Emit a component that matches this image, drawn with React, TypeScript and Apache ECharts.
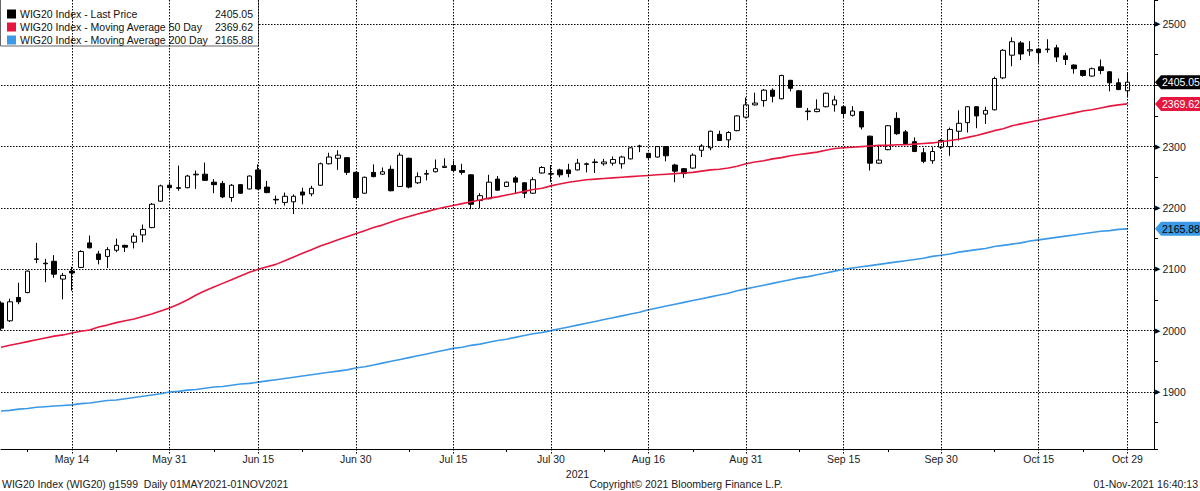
import React, { useEffect, useRef } from "react";
import * as echarts from "echarts";

const dates: string[] = [
  "May 4", "May 5", "May 6", "May 7", "May 10", "May 11", "May 12", "May 13", "May 14", "May 17",
  "May 18", "May 19", "May 20", "May 21", "May 24", "May 25", "May 26", "May 27", "May 28", "May 31",
  "Jun 1", "Jun 2", "Jun 4", "Jun 7", "Jun 8", "Jun 9", "Jun 10", "Jun 11", "Jun 14", "Jun 15",
  "Jun 16", "Jun 17", "Jun 18", "Jun 21", "Jun 22", "Jun 23", "Jun 24", "Jun 25", "Jun 28", "Jun 29", "Jun 30",
  "Jul 1", "Jul 2", "Jul 5", "Jul 6", "Jul 7", "Jul 8", "Jul 9", "Jul 12", "Jul 13", "Jul 14",
  "Jul 15", "Jul 16", "Jul 19", "Jul 20", "Jul 21", "Jul 22", "Jul 23", "Jul 26", "Jul 27", "Jul 28", "Jul 29", "Jul 30",
  "Aug 2", "Aug 3", "Aug 4", "Aug 5", "Aug 6", "Aug 9", "Aug 10", "Aug 11", "Aug 12", "Aug 13",
  "Aug 16", "Aug 17", "Aug 18", "Aug 19", "Aug 20", "Aug 23", "Aug 24", "Aug 25", "Aug 26", "Aug 27", "Aug 30", "Aug 31",
  "Sep 1", "Sep 2", "Sep 3", "Sep 6", "Sep 7", "Sep 8", "Sep 9", "Sep 10", "Sep 13", "Sep 14",
  "Sep 15", "Sep 16", "Sep 17", "Sep 20", "Sep 21", "Sep 22", "Sep 23", "Sep 24", "Sep 27", "Sep 28", "Sep 29", "Sep 30",
  "Oct 1", "Oct 4", "Oct 5", "Oct 6", "Oct 7", "Oct 8", "Oct 11", "Oct 12", "Oct 13", "Oct 14",
  "Oct 15", "Oct 18", "Oct 19", "Oct 20", "Oct 21", "Oct 22", "Oct 25", "Oct 26", "Oct 27", "Oct 28", "Oct 29",
];

const labelDates: string[] = [
  "May 14", "May 31", "Jun 15", "Jun 30", "Jul 15", "Jul 30",
  "Aug 16", "Aug 31", "Sep 15", "Sep 30", "Oct 15", "Oct 29",
];

const minorDates: string[] = [
  "May 7", "May 21", "Jun 8", "Jun 22", "Jul 8", "Jul 23",
  "Aug 9", "Aug 23", "Sep 8", "Sep 22", "Oct 8", "Oct 22",
];

// [open, close, low, high]
const candles: number[][] = [
  [2045, 2004, 2000, 2048], [2016, 2047, 2014, 2052], [2054, 2047, 2043, 2078], [2062, 2097, 2061, 2098],
  [2116, 2117, 2110, 2143], [2110, 2109, 2079, 2117], [2113, 2092, 2086, 2123], [2084, 2090, 2051, 2094],
  [2097, 2094, 2065, 2104], [2103, 2129, 2102, 2131], [2143, 2135, 2134, 2155], [2125, 2116, 2108, 2130],
  [2121, 2132, 2102, 2136], [2131, 2139, 2128, 2150], [2139, 2136, 2128, 2140], [2144, 2154, 2134, 2159],
  [2156, 2165, 2144, 2173], [2168, 2206, 2167, 2208], [2211, 2236, 2210, 2238], [2237, 2233, 2228, 2242],
  [2233, 2232, 2228, 2269], [2233, 2252, 2232, 2254], [2254, 2255, 2231, 2261], [2255, 2245, 2244, 2274],
  [2242, 2238, 2224, 2247], [2240, 2218, 2216, 2244], [2217, 2237, 2210, 2239], [2238, 2224, 2223, 2239],
  [2231, 2252, 2230, 2253], [2262, 2231, 2230, 2271], [2234, 2225, 2224, 2244], [2214, 2213, 2206, 2220],
  [2209, 2219, 2204, 2225], [2210, 2219, 2190, 2222], [2226, 2221, 2206, 2233], [2223, 2232, 2219, 2236],
  [2237, 2272, 2236, 2274], [2272, 2283, 2271, 2290], [2281, 2286, 2262, 2294], [2282, 2258, 2254, 2283],
  [2258, 2217, 2216, 2259], [2224, 2250, 2223, 2251], [2258, 2251, 2250, 2271], [2255, 2259, 2254, 2266],
  [2263, 2228, 2227, 2269], [2235, 2286, 2234, 2290], [2281, 2234, 2232, 2282], [2241, 2251, 2239, 2258],
  [2255, 2256, 2245, 2262], [2259, 2264, 2258, 2279], [2266, 2268, 2265, 2281], [2269, 2261, 2259, 2277],
  [2261, 2258, 2254, 2272], [2254, 2206, 2198, 2255], [2212, 2220, 2200, 2224], [2215, 2242, 2214, 2254],
  [2247, 2229, 2228, 2252], [2235, 2242, 2234, 2243], [2249, 2242, 2224, 2252], [2241, 2224, 2216, 2242],
  [2224, 2246, 2223, 2250], [2257, 2266, 2256, 2268], [2255, 2256, 2242, 2270], [2262, 2254, 2250, 2264],
  [2262, 2256, 2250, 2272], [2262, 2273, 2261, 2280], [2271, 2272, 2258, 2274], [2274, 2275, 2257, 2280],
  [2272, 2275, 2269, 2280], [2273, 2279, 2269, 2284], [2272, 2283, 2264, 2285], [2280, 2298, 2279, 2299],
  [2300, 2301, 2291, 2303], [2289, 2282, 2280, 2290], [2283, 2300, 2282, 2301], [2300, 2285, 2276, 2301],
  [2270, 2260, 2242, 2272], [2264, 2256, 2249, 2265], [2265, 2286, 2264, 2289], [2294, 2301, 2283, 2304],
  [2298, 2325, 2294, 2326], [2320, 2310, 2309, 2326], [2311, 2323, 2298, 2325], [2326, 2350, 2325, 2351],
  [2348, 2368, 2346, 2380], [2368, 2371, 2367, 2388], [2375, 2392, 2365, 2394], [2392, 2382, 2372, 2395],
  [2378, 2416, 2377, 2417], [2408, 2395, 2390, 2409], [2391, 2364, 2363, 2392], [2357, 2358, 2343, 2363],
  [2357, 2361, 2356, 2377], [2365, 2387, 2364, 2388], [2368, 2376, 2357, 2383], [2365, 2354, 2348, 2366],
  [2351, 2358, 2349, 2366], [2357, 2332, 2328, 2358], [2317, 2273, 2261, 2318], [2273, 2278, 2272, 2302],
  [2295, 2334, 2294, 2335], [2346, 2321, 2319, 2356], [2324, 2305, 2304, 2327], [2308, 2292, 2291, 2315],
  [2290, 2276, 2273, 2298], [2277, 2292, 2272, 2299], [2299, 2310, 2296, 2312], [2300, 2328, 2285, 2331],
  [2325, 2338, 2310, 2359], [2339, 2365, 2323, 2366], [2365, 2350, 2330, 2366], [2353, 2359, 2337, 2365],
  [2360, 2411, 2359, 2414], [2412, 2457, 2410, 2459], [2449, 2471, 2431, 2478], [2469, 2451, 2441, 2472],
  [2456, 2458, 2448, 2472], [2459, 2453, 2437, 2460], [2458, 2459, 2453, 2475], [2461, 2446, 2438, 2466],
  [2448, 2442, 2433, 2453], [2433, 2427, 2419, 2434], [2424, 2416, 2414, 2425], [2415, 2427, 2414, 2429],
  [2430, 2424, 2418, 2442], [2422, 2404, 2390, 2423], [2404, 2393, 2392, 2411], [2391, 2405.05, 2380, 2421],
];

const ma50: number[] = [
  1973, 1976, 1979, 1982, 1985, 1988, 1991, 1993, 1996, 1999,
  2001, 2006, 2009, 2013, 2016, 2019, 2023, 2027, 2032, 2037,
  2043, 2050, 2058, 2065, 2071, 2077, 2083, 2089, 2095, 2100,
  2104, 2108, 2114, 2120, 2126, 2132, 2138, 2143, 2148, 2153,
  2158, 2163, 2168, 2172, 2177, 2182, 2186, 2190, 2194, 2198,
  2201, 2204, 2207, 2210, 2213, 2216, 2218, 2221, 2224, 2227,
  2230, 2232, 2236, 2239, 2242, 2244, 2246, 2247, 2248, 2249,
  2250, 2251, 2252, 2253, 2254, 2255, 2256, 2257, 2258, 2260,
  2262, 2263, 2265, 2268, 2272, 2275, 2277, 2280, 2282, 2285,
  2287, 2289, 2291, 2294, 2297, 2298, 2299, 2300, 2301, 2302,
  2302, 2303, 2303, 2304, 2305, 2306, 2308, 2310, 2312, 2315,
  2318, 2322, 2326, 2329, 2334, 2337, 2340, 2343, 2346, 2349,
  2352, 2355, 2358, 2360, 2363, 2366, 2368, 2369.62,
];

const ma200: number[] = [
  1869, 1870, 1872, 1873, 1875, 1876, 1877, 1878, 1879, 1881,
  1882, 1884, 1886, 1887, 1889, 1891, 1893, 1895, 1897, 1900,
  1901, 1903, 1904, 1906, 1908, 1909, 1911, 1913, 1914, 1916,
  1918, 1920, 1922, 1924, 1926, 1928, 1930, 1932, 1934, 1936,
  1939, 1941, 1944, 1947, 1950, 1953, 1956, 1959, 1962, 1965,
  1968, 1971, 1973, 1976, 1978, 1981, 1984, 1986, 1989, 1992,
  1995, 1997, 2000, 2003, 2006, 2009, 2012, 2015, 2018, 2021,
  2024, 2027, 2030, 2034, 2037, 2040, 2043, 2046, 2049, 2052,
  2055, 2058, 2061, 2065, 2068, 2071, 2074, 2077, 2080, 2083,
  2086, 2088, 2091, 2094, 2097, 2100, 2102, 2104, 2106, 2108,
  2110, 2112, 2114, 2116, 2118, 2121, 2123, 2125, 2128, 2130,
  2132, 2134, 2137, 2139, 2141, 2143, 2146, 2148, 2150, 2152,
  2154, 2156, 2158, 2160, 2162, 2163, 2165, 2165.88,
];

const yGrid: number[] = [1900, 2000, 2100, 2200, 2300, 2400, 2500];
// 2400 sits under the last-price tag in the reference, so it has no visible label
const yLabels: number[] = [1900, 2000, 2100, 2200, 2300, 2500];

const legendNames: string[] = [
  "WIG20 Index - Last Price",
  "WIG20 Index - Moving Average 50 Day",
  "WIG20 Index - Moving Average 200 Day",
];
const lastValues: number[] = [2405.05, 2369.62, 2165.88];

const COLOR_PRICE = "#000000";
const COLOR_MA50 = "#e5173f";
const COLOR_MA200 = "#3b99e6";
const GRID_COLOR = "#000000";
const GRID_DASH = [1.5, 1.5];
const FONT = '"Liberation Sans", Arial, sans-serif';

export default function App() {
  const ref = useRef<HTMLDivElement>(null);

  useEffect(() => {
    const el = ref.current;
    if (!el) return;
    const chart = echarts.init(el, null, { renderer: "svg" });

    const isLabel = (_i: number, v: string) => labelDates.includes(v);
    const isMinor = (_i: number, v: string) => minorDates.includes(v);

    const option: any = {
      animation: false,
      backgroundColor: "#ffffff",
      grid: { left: 1, right: 46, top: 0, bottom: 42, containLabel: false },
      xAxis: [
        {
          type: "category",
          data: dates,
          boundaryGap: false,
          min: 0,
          max: 130,
          position: "bottom",
          z: 5,
          axisLine: { show: true, lineStyle: { color: "#000", width: 1 } },
          axisTick: {
            show: true,
            interval: isLabel,
            length: 6,
            lineStyle: { color: GRID_COLOR, width: 1, type: GRID_DASH },
          },
          axisLabel: {
            show: true,
            interval: isLabel,
            margin: 4,
            color: "#1a1a1a",
            fontFamily: FONT,
            fontSize: 10.5,
            hideOverlap: false,
          },
          splitLine: {
            show: true,
            interval: isLabel,
            lineStyle: { color: GRID_COLOR, width: 1, type: GRID_DASH, opacity: 1 },
          },
          name: "2021",
          nameLocation: "middle",
          nameGap: 16,
          nameTextStyle: { color: "#1a1a1a", fontFamily: FONT, fontSize: 10.5 },
        },
        {
          type: "category",
          data: dates,
          boundaryGap: false,
          min: 0,
          max: 130,
          position: "bottom",
          z: 5,
          axisLine: { show: false },
          axisTick: {
            show: true,
            interval: isMinor,
            length: 3,
            lineStyle: { color: "#000", width: 1 },
          },
          axisLabel: { show: false },
          splitLine: { show: false },
        },
      ],
      yAxis: {
        type: "value",
        position: "right",
        min: 1807,
        max: 2539,
        splitNumber: 15,
        minInterval: 50,
        maxInterval: 50,
        axisLine: { show: true, lineStyle: { color: "#000", width: 1 } },
        axisTick: { show: true, length: 4, lineStyle: { color: "#000", width: 1 } },
        axisLabel: {
          show: true,
          margin: 1,
          formatter: (v: number) => (yLabels.includes(Math.round(v)) ? `{a|▶}{b|${v}}` : ""),
          rich: {
            a: { fontFamily: '"DejaVu Sans"', fontSize: 7, color: "#000" },
            b: { fontFamily: FONT, fontSize: 10.5, color: "#1a1a1a", padding: [0, 0, 0, 2] },
          },
        },
        splitLine: { show: false },
      },
      series: [
        {
          name: legendNames[0],
          type: "candlestick",
          xAxisIndex: 0,
          data: candles,
          barWidth: 5,
          z: 2,
          itemStyle: {
            color: "#ffffff",
            color0: "#000000",
            borderColor: "#000000",
            borderColor0: "#000000",
            borderColorDoji: "#000000",
            borderWidth: 1,
          },
        },
        {
          name: legendNames[1],
          type: "line",
          xAxisIndex: 0,
          data: ma50,
          showSymbol: false,
          symbol: "none",
          z: 3,
          lineStyle: { color: COLOR_MA50, width: 1.6 },
        },
        {
          name: legendNames[2],
          type: "line",
          xAxisIndex: 0,
          data: ma200,
          showSymbol: false,
          symbol: "none",
          z: 3,
          lineStyle: { color: COLOR_MA200, width: 1.6 },
          markLine: {
            silent: true,
            symbol: "none",
            z: 3,
            label: { show: false },
            emphasis: { disabled: true },
            lineStyle: { color: GRID_COLOR, width: 1, type: GRID_DASH, opacity: 1 },
            data: yGrid.map((v) => ({ yAxis: v })),
          },
        },
      ],
    };

    chart.setOption(option);

    const colors = [COLOR_PRICE, COLOR_MA50, COLOR_MA200];
    const tagText = ["#ffffff", "#ffffff", "#000000"];
    const gfx: any[] = [];

    // legend box
    gfx.push({
      type: "rect",
      z: 4,
      shape: { x: 0.5, y: -1, width: 258, height: 47 },
      style: { fill: "#ffffff", stroke: "#666666", lineWidth: 1 },
    });
    legendNames.forEach((name, i) => {
      const cy = 14 + i * 13;
      gfx.push({
        type: "rect",
        z: 4,
        shape: { x: 7, y: cy - 4.5, width: 9, height: 9 },
        style: { fill: colors[i] },
      });
      gfx.push({
        type: "text",
        z: 4,
        x: 20,
        y: cy,
        style: {
          text: name,
          fill: "#111",
          font: `10.5px ${FONT}`,
          textAlign: "left",
          textVerticalAlign: "middle",
        },
      });
      gfx.push({
        type: "text",
        z: 4,
        x: 253,
        y: cy,
        style: {
          text: lastValues[i].toFixed(2),
          fill: "#111",
          font: `10.5px ${FONT}`,
          textAlign: "right",
          textVerticalAlign: "middle",
        },
      });
    });

    // price tags on the right axis
    lastValues.forEach((v, i) => {
      const y = chart.convertToPixel({ yAxisIndex: 0 }, v) as number;
      gfx.push({
        type: "polygon",
        z: 10,
        shape: {
          points: [
            [1155, y],
            [1161, y - 7],
            [1200, y - 7],
            [1200, y + 7],
            [1161, y + 7],
          ],
        },
        style: { fill: colors[i] },
      });
      gfx.push({
        type: "text",
        z: 11,
        x: 1162,
        y: y,
        style: {
          text: v.toFixed(2),
          fill: tagText[i],
          font: `10.5px ${FONT}`,
          textAlign: "left",
          textVerticalAlign: "middle",
        },
      });
    });

    // footer
    gfx.push({
      type: "text",
      x: 2,
      y: 484,
      style: {
        text: "WIG20 Index (WIG20) g1599  Daily 01MAY2021-01NOV2021",
        fill: "#1a1a1a",
        font: `10.5px ${FONT}`,
        textAlign: "left",
        textVerticalAlign: "middle",
      },
    });
    gfx.push({
      type: "text",
      x: 686,
      y: 484,
      style: {
        text: "Copyright© 2021 Bloomberg Finance L.P.",
        fill: "#1a1a1a",
        font: `10.5px ${FONT}`,
        textAlign: "center",
        textVerticalAlign: "middle",
      },
    });
    gfx.push({
      type: "text",
      x: 1198,
      y: 484,
      style: {
        text: "01-Nov-2021 16:40:13",
        fill: "#1a1a1a",
        font: `10.5px ${FONT}`,
        textAlign: "right",
        textVerticalAlign: "middle",
      },
    });

    chart.setOption({ graphic: gfx });

    return () => {
      chart.dispose();
    };
  }, []);

  return (
    <div
      ref={ref}
      style={{ position: "fixed", left: 0, top: 0, width: 1200, height: 491, background: "#fff" }}
    />
  );
}
